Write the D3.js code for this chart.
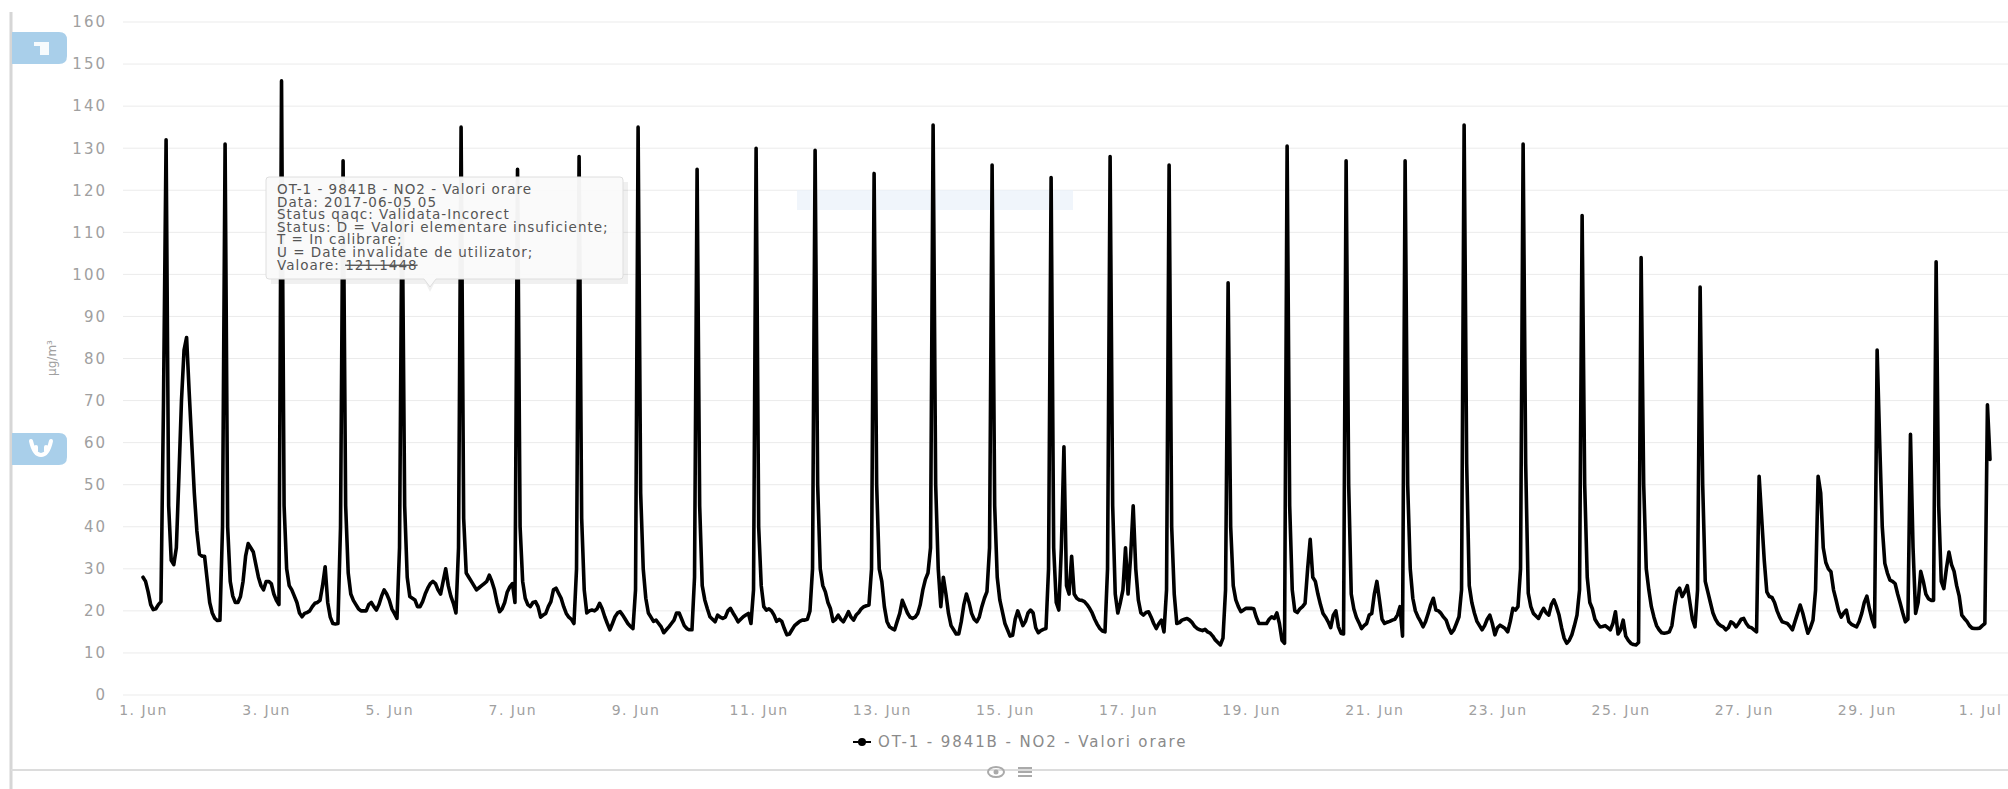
<!DOCTYPE html>
<html>
<head>
<meta charset="utf-8">
<script src="https://cdn.jsdelivr.net/npm/d3@7"></script>
<style>
  body { margin: 0; background: #fff; }
  svg { display: block; font-family: "DejaVu Sans", sans-serif; }
</style>
</head>
<body>
<svg id="chart"></svg>
<script>

    var width = 2008;
    var height = 789;

    // hourly NO2 values (ug/m3), starting 2017-06-01 00:00
    var week1 = [
      28, 27, 24.5, 21.5, 20.3, 20.5, 21.5, 22.2, 70, 132, 45, 32, 31, 35, 52, 70, 82, 85, 72, 60, 48, 39, 33.5, 33,      // 1 Jun
      33, 27.5, 22, 19.5, 18.2, 17.7, 17.8, 40, 131, 40, 27, 23.5, 22, 22, 23.4, 27, 33, 36, 35, 34, 31, 28, 26, 25,      // 2 Jun
      27, 27, 26.5, 24, 22.5, 21.5, 146, 45, 30, 26, 25, 23.5, 22, 19.5, 18.6, 19.4, 19.6, 20, 21, 21.8, 22, 22.5, 26, 30.5,
      22, 18.5, 17, 16.9, 17, 40, 127, 45, 29, 24, 22.5, 21.5, 20.5, 20, 20, 20, 21.5, 22, 21, 20.2, 21.5, 23.5, 25, 24,
      22.6, 20.5, 19.4, 18.2, 35, 121.1448, 45, 28, 23.4, 23, 22.6, 21, 21, 22.2, 24, 25.4, 26.5, 27, 26.5, 25, 24, 27, 30, 26,
      23.5, 21.8, 19.5, 35, 135, 42, 29, 28, 27, 26, 25, 25.5, 26, 26.5, 27, 28.5, 27, 25, 22, 19.8, 20.5, 22, 24.5, 25.7,
      26.5, 22, 125, 40, 27, 23, 21.5, 21, 22, 22.2, 21, 18.5, 19, 19.4, 21, 22.2, 25, 25.4, 24.2, 23, 21, 19.4, 18.5, 18  // 7 Jun
    ];
    var week2 = [
      17, 30, 128, 42, 25, 19.5, 20, 20.2, 20, 20.5, 21.8, 20.5, 18.6, 17, 15.5, 17, 18.6, 19.5, 19.8, 19, 18, 17, 16.3, 15.8,   // 8 Jun
      25, 135, 48, 30, 23, 19.5, 18.5, 17.5, 17.8, 17, 16.2, 14.8, 15.5, 16.2, 17, 17.8, 19.5, 19.5, 18, 16.5, 15.8, 15.5, 15.5, 28,
      125, 45, 26, 22.6, 20.5, 18.6, 18, 17.4, 19, 18.5, 18.2, 18.5, 20, 20.6, 19.5, 18.5, 17.4, 18, 18.6, 19, 19.4, 17, 25, 130,
      40, 26, 21, 20.2, 20.5, 20, 19, 17.5, 18, 17.5, 15.8, 14.3, 14.5, 15.5, 16.5, 17, 17.5, 17.8, 17.8, 18, 20, 30, 129.5, 50,
      30, 26, 24.5, 22, 20.5, 17.5, 18, 19, 18, 17.4, 18.5, 19.8, 18.5, 17.8, 19, 19.6, 20.5, 21, 21.2, 21.4, 30, 124, 50, 30,
      27, 21, 17.5, 16.2, 15.8, 15.5, 17.5, 19.4, 22.5, 21, 19.5, 18.5, 18.2, 18.5, 19.4, 21.5, 25, 27.5, 29, 35, 135.5, 50, 30, 21,
      28, 24, 19.4, 16.5, 15.5, 14.5, 14.5, 17.5, 21.5, 24, 22, 19.4, 18, 17.4, 18.5, 21, 23, 24.6, 35, 126, 45, 28, 22.6, 19.8  // 14 Jun
    ];
    var week3 = [
      17, 15.5, 14, 14.2, 18, 20, 18.2, 16.5, 17.5, 19.5, 20.2, 19.5, 16, 14.8, 15.3, 15.6, 15.8, 30, 123, 35, 22, 20.2, 35, 59,   // 15 Jun
      26, 24, 33, 24, 23, 22.6, 22.5, 22.2, 21.5, 20.6, 19.5, 18, 16.8, 15.8, 15.2, 15, 30, 128, 45, 24, 19.5, 22, 25, 35,
      24, 33, 45, 30, 22.6, 19.5, 19, 19.6, 19.8, 18.5, 17, 15.8, 17, 17.8, 15, 25, 126, 40, 24, 17, 17.2, 17.8, 18, 18.2,
      17.8, 17.2, 16.3, 15.8, 15.5, 15.3, 15.6, 15, 14.7, 14, 13.1, 12.5, 11.9, 13.5, 25, 98, 40, 26, 22.6, 21, 19.8, 20.2, 20.6, 20.6,
      20.6, 20.5, 18.5, 17, 17, 17, 17, 18, 18.6, 18.2, 19.5, 17, 13, 12.3, 130.5, 45, 25, 20, 19.6, 20.5, 21, 21.8, 30, 37,
      28, 27, 24, 21.5, 19.4, 18.5, 17.4, 16, 19, 20, 16.2, 14.7, 14.5, 127, 50, 24, 20.5, 18.5, 17.2, 15.8, 16.5, 17, 19, 19.4,
      24, 27, 22.6, 18, 17, 17.3, 17.5, 17.8, 18, 19, 21, 14, 127, 50, 30, 23, 20, 18.6, 17.5, 16.2, 17.5, 19.4, 21.5, 23  // 21 Jun
    ];
    var week4 = [
      20.2, 20, 19.4, 18.5, 17.8, 16, 14.7, 15.5, 17, 18.6, 25, 135.5, 55, 26, 22, 19.5, 17.5, 16.5, 15.5, 16.5, 18, 19, 17, 14.3,  // 22 Jun
      16, 16.6, 16.2, 15.8, 15, 17.5, 20.6, 20.2, 21, 30, 131, 55, 24.2, 21, 19.4, 18.8, 18.2, 19.5, 20.6, 19.5, 19, 21.5, 22.6, 21,
      19, 16, 13.5, 12.3, 13, 14.3, 16.5, 19, 25, 114, 50, 28, 22, 20.5, 18, 17, 16.2, 16.3, 16.5, 16, 15.5, 17, 19.8, 14.5,
      15.5, 17.8, 14, 13, 12.3, 12, 11.9, 12.5, 104, 50, 30, 25, 21, 18.5, 16.5, 15.5, 14.8, 14.7, 14.8, 15, 16.5, 21, 24.6, 25.4,
      23.4, 24.5, 26, 22, 18, 16.2, 25, 97, 50, 27, 24.5, 22, 19.5, 18, 17, 16.5, 16.2, 15.5, 16, 17.4, 17, 16.2, 17, 18,
      18.2, 17, 16.2, 16, 15.5, 15, 52, 42, 32, 24.5, 23.4, 23.2, 22, 20, 18.5, 17.4, 17.2, 17, 16.3, 15.5, 17.5, 19.4, 21.4, 19.5,
      17, 14.7, 16, 17.8, 25, 52, 48, 35, 31.5, 30, 29.3, 25, 22.6, 20, 18.5, 19.5, 20.2, 17.4, 16.8, 16.5, 16.2, 17.5, 19.4, 22  // 28 Jun
    ];
    var week5 = [
      23.5, 20.5, 18, 16.2, 82, 60, 40, 31.3, 29, 27.3, 27, 26.5, 24, 21.8, 19.5, 17.4, 18, 62, 35, 19.4, 22, 29.4, 27, 24,   // 29 Jun
      22.9, 22.5, 22.5, 103, 45, 27, 25.3, 30, 34, 31, 29.4, 26, 23.5, 19, 18.2, 17.5, 16.5, 15.9, 15.8, 15.8, 15.9, 16.5, 17, 69,
      56                                                                                                          // 1 Jul 00:00
    ];

    var yTicks = [0, 10, 20, 30, 40, 50, 60, 70, 80, 90, 100, 110, 120, 130, 140, 150, 160];
    var xTickDays = [1, 3, 5, 7, 9, 11, 13, 15, 17, 19, 21, 23, 25, 27, 29, 31];
    var xTickLabels = ["1. Jun", "3. Jun", "5. Jun", "7. Jun", "9. Jun", "11. Jun", "13. Jun", "15. Jun",
                       "17. Jun", "19. Jun", "21. Jun", "23. Jun", "25. Jun", "27. Jun", "29. Jun", "1. Jul"];

    var seriesName = "OT-1 - 9841B - NO2 - Valori orare";
    var tooltipLines = [
      "OT-1 - 9841B - NO2 - Valori orare",
      "Data: 2017-06-05 05",
      "Status qaqc: Validata-Incorect",
      "Status: D = Valori elementare insuficiente;",
      "T = In calibrare;",
      "U = Date invalidate de utilizator;"
    ];
    var tooltipValue = "121.1448";

    var start = new Date(Date.UTC(2017, 5, 1, 0));
    var end = new Date(Date.UTC(2017, 6, 1, 0));

    var values = week1.concat(week2, week3, week4, week5);
    var data = values.map(function(v, i) {
      return { t: d3.utcHour.offset(start, i), v: v };
    });

    var svg = d3.select("#chart")
      .attr("width", width)
      .attr("height", height);

    var x = d3.scaleUtc()
      .domain([start, end])
      .range([143, 1990]);

    var y = d3.scaleLinear()
      .domain([0, 160])
      .range([695, 22]);

    // panel frame
    svg.append("line")
      .attr("x1", 11).attr("x2", 11)
      .attr("y1", 12).attr("y2", height)
      .attr("stroke", "#d6d6d6")
      .attr("stroke-width", 3);

    svg.append("line")
      .attr("x1", 11).attr("x2", width)
      .attr("y1", 770).attr("y2", 770)
      .attr("stroke", "#dcdcdc")
      .attr("stroke-width", 2);

    // grid
    svg.append("g")
      .selectAll("line")
      .data(yTicks)
      .enter().append("line")
      .attr("x1", 123)
      .attr("x2", width)
      .attr("y1", function(d) { return y(d); })
      .attr("y2", function(d) { return y(d); })
      .attr("stroke", "#ebebeb")
      .attr("stroke-width", 1);

    // faint band behind the series
    svg.append("rect")
      .attr("x", 797).attr("y", 190)
      .attr("width", 276).attr("height", 20)
      .attr("fill", "#e9f1fa")
      .attr("opacity", 0.7);

    // axes
    var yAxis = d3.axisLeft(y)
      .tickValues(yTicks)
      .tickSize(0)
      .tickPadding(16);

    var gy = svg.append("g")
      .attr("transform", "translate(123,0)")
      .call(yAxis);
    gy.select(".domain").remove();
    gy.selectAll("text")
      .attr("fill", "#a0a0a0")
      .style("font-size", "15px")
      .style("letter-spacing", "2px")
      .style("font-family", "DejaVu Sans, sans-serif");

    var xAxis = d3.axisBottom(x)
      .tickValues(xTickDays.map(function(d) { return new Date(Date.UTC(2017, 5, d, 0)); }))
      .tickFormat(function(d, i) { return xTickLabels[i]; })
      .tickSize(0)
      .tickPadding(10);

    var gx = svg.append("g")
      .attr("transform", "translate(0,695)")
      .call(xAxis);
    gx.select(".domain").remove();
    gx.selectAll("text")
      .attr("fill", "#a0a0a0")
      .style("font-size", "14px")
      .style("letter-spacing", "1.5px")
      .style("font-family", "DejaVu Sans, sans-serif");
    // last label sits on the right edge; keep it inside the page
    gx.selectAll("text")
      .filter(function(d, i) { return i === xTickLabels.length - 1; })
      .attr("dx", -10);

    svg.append("text")
      .attr("transform", "translate(56,358) rotate(-90)")
      .attr("text-anchor", "middle")
      .attr("fill", "#a0a0a0")
      .style("font-size", "12px")
      .text("µg/m³");

    // series
    var line = d3.line()
      .x(function(d) { return x(d.t); })
      .y(function(d) { return y(d.v); });

    svg.append("path")
      .datum(data)
      .attr("d", line)
      .attr("fill", "none")
      .attr("stroke", "#000")
      .attr("stroke-width", 3.6)
      .attr("stroke-linejoin", "round")
      .attr("stroke-linecap", "round");

    // left side tabs
    var tabs = [32, 433];
    svg.selectAll(".tab")
      .data(tabs)
      .enter().append("path")
      .attr("class", "tab")
      .attr("d", function(d) {
        var p = d3.path();
        p.moveTo(12, d);
        p.lineTo(59, d);
        p.quadraticCurveTo(67, d, 67, d + 8);
        p.lineTo(67, d + 24);
        p.quadraticCurveTo(67, d + 32, 59, d + 32);
        p.lineTo(12, d + 32);
        p.closePath();
        return p.toString();
      })
      .attr("fill", "#a9cfea");

    // tab icons
    svg.append("rect")
      .attr("x", 34).attr("y", 42).attr("width", 15).attr("height", 13)
      .attr("fill", "#fff").attr("opacity", 0.9);
    svg.append("rect")
      .attr("x", 34).attr("y", 46).attr("width", 6).attr("height", 9)
      .attr("fill", "#a9cfea");
    svg.append("path")
      .attr("d", "M31,441 Q34,455 41,455 Q48,455 51,441 M36,447 L36,451 M46,447 L46,451")
      .attr("fill", "none").attr("stroke", "#fff").attr("stroke-width", 4)
      .attr("stroke-linecap", "round");

    // tooltip
    var tip = svg.append("g").attr("transform", "translate(266,177)");
    tip.append("path")
      .attr("d", "M3,3 L360,3 L360,105 L166,105 L162,113 L158,105 L3,105 Z")
      .attr("fill", "#000").attr("opacity", 0.06)
      .attr("transform", "translate(2,2)");
    tip.append("path")
      .attr("d", "M3,0 L354,0 Q357,0 357,3 L357,99 Q357,102 354,102 L170,102 L164,110 L158,102 L3,102 Q0,102 0,99 L0,3 Q0,0 3,0 Z")
      .attr("fill", "rgba(250,250,250,0.97)")
      .attr("stroke", "#dedede")
      .attr("stroke-width", 1);

    tip.selectAll(".tl")
      .data(tooltipLines)
      .enter().append("text")
      .attr("class", "tl")
      .attr("x", 11)
      .attr("y", 17 + 0)
      .attr("y", function(d, i) { return 17 + i * 12.6; })
      .attr("fill", "#555")
      .style("font-size", "13.5px")
      .style("letter-spacing", "1px")
      .text(function(d) { return d; });

    var lastLine = tip.append("text")
      .attr("x", 11)
      .attr("y", 17 + 6 * 12.6)
      .attr("fill", "#555")
      .style("font-size", "13.5px")
      .style("letter-spacing", "1px");
    lastLine.append("tspan").text("Valoare: ");
    lastLine.append("tspan")
      .style("text-decoration", "line-through")
      .text(tooltipValue);

    // legend
    var legend = svg.append("g").attr("transform", "translate(853,742)");
    legend.append("line")
      .attr("x1", 0).attr("x2", 18)
      .attr("y1", 0).attr("y2", 0)
      .attr("stroke", "#000").attr("stroke-width", 2);
    legend.append("circle")
      .attr("cx", 9).attr("cy", 0).attr("r", 4)
      .attr("fill", "#000");
    legend.append("text")
      .attr("x", 25)
      .attr("y", 5)
      .attr("fill", "#8a8a8a")
      .style("font-size", "15px")
      .style("letter-spacing", "1.9px")
      .text(seriesName);

    // bottom icons (view / menu)
    var icons = svg.append("g").attr("transform", "translate(0,772)");
    icons.append("ellipse")
      .attr("cx", 996).attr("cy", 0).attr("rx", 8).attr("ry", 5)
      .attr("fill", "none").attr("stroke", "#aaa").attr("stroke-width", 2);
    icons.append("circle")
      .attr("cx", 996).attr("cy", 0).attr("r", 2.5)
      .attr("fill", "#aaa");
    icons.selectAll(".bar")
      .data([-4, 0, 4])
      .enter().append("line")
      .attr("class", "bar")
      .attr("x1", 1018).attr("x2", 1032)
      .attr("y1", function(d) { return d; })
      .attr("y2", function(d) { return d; })
      .attr("stroke", "#aaa").attr("stroke-width", 2);

</script>
</body>
</html>
